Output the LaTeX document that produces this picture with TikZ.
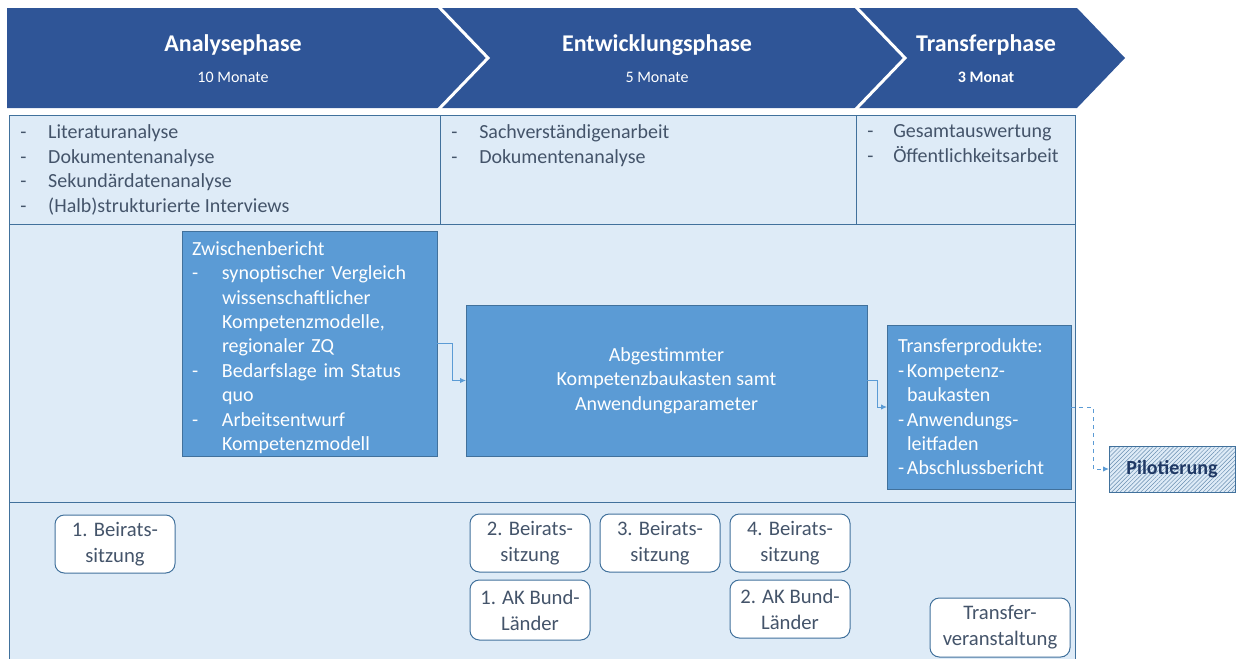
\documentclass[tikz,border=0pt]{standalone}
\usepackage{fontspec}
\setmainfont{Carlito}
\usetikzlibrary{patterns.meta,arrows.meta}
\definecolor{hdr}{HTML}{2F5597}
\definecolor{light}{HTML}{DEEBF7}
\definecolor{bord}{HTML}{41719C}
\definecolor{mid}{HTML}{5B9BD5}
\definecolor{txt}{HTML}{44546A}
\definecolor{pil}{HTML}{1F3864}
\newcommand\litem{\makebox[21pt][l]{-}}
\newcommand\zitem{\makebox[22.5pt][l]{-}}
\newcommand\titem{\makebox[6.75pt][l]{-}}
\tikzset{
  hdrtitle/.style={text=white,font=\fontsize{18}{22}\selectfont\bfseries,inner sep=0pt},
  hdrsub/.style={text=white,font=\fontsize{12}{14}\selectfont,inner sep=0pt},
  actbox/.style={draw=bord,fill=light,line width=0.75pt},
  acttext/.style={text=txt,font=\fontsize{15}{18.4}\selectfont,align=left,inner sep=0pt,anchor=north west},
  midbox/.style={draw=bord,fill=mid,line width=0.75pt,text=white,font=\fontsize{15}{18.3}\selectfont,inner sep=0pt,outer sep=0pt},
  meetbox/.style={draw=bord,fill=white,line width=0.75pt,rounded corners=7pt,text=txt,font=\fontsize{15.5}{19.5}\selectfont,align=center,inner sep=0pt,outer sep=0pt,minimum width=90pt},
  conn/.style={draw=mid,line width=0.75pt,-{Latex[length=4.5pt,width=4pt]}},
}
\begin{document}
\begin{tikzpicture}[x=0.75pt,y=-0.75pt]
\useasboundingbox (0,0) rectangle (1239,658);
% header
\fill[hdr] (7,8) -- (1077,8) -- (1125,58) -- (1077,108) -- (7,108) -- cycle;
\draw[white,line width=2.25pt] (438,6) -- (488,58) -- (438,110);
\draw[white,line width=2.25pt] (855,6) -- (905,58) -- (855,110);
\node[hdrtitle] (t1) at (233,45) {Analysephase};
\node[hdrsub] (s1) at (233,77) {10 Monate};
\node[hdrtitle] (t2) at (657,45) {Entwicklungsphase};
\node[hdrsub] (s2) at (657,77) {5 Monate};
\node[hdrtitle] (t3) at (986,45) {Transferphase};
\node[hdrsub,font=\fontsize{12}{14}\selectfont\bfseries] (s3) at (986,77) {3 Monat};
% activity row
\draw[actbox] (9,115) rectangle (440,224);
\draw[actbox] (440,115) rectangle (856,224);
\draw[actbox] (856,115) rectangle (1075,224);
\node[acttext] (a1) at (20,124.5) {\litem Literaturanalyse\\ \litem Dokumentenanalyse\\ \litem Sekundärdatenanalyse\\ \litem (Halb)strukturierte Interviews};
\node[acttext] (a2) at (451,124.5) {\litem Sachverständigenarbeit\\ \litem Dokumentenanalyse};
\node[acttext] (a3) at (867,124.5) {\makebox[19.5pt][l]{-}Gesamtauswertung\\ \makebox[19.5pt][l]{-}Öffentlichkeitsarbeit};
% bands
\draw[actbox] (9,224) rectangle (1075,502);
\fill[light] (9,502) rectangle (1075,659);
\draw[bord,line width=0.75pt] (9,659) -- (9,502) -- (1075,502) -- (1075,659);
% middle boxes
\node[midbox,minimum width=191.25pt,minimum height=168.75pt,align=left,text width=176.25pt] (zb) at (309.5,343.5)
 {\rule{0pt}{16.5pt}Zwischenbericht\\ \zitem synoptischer Vergleich\\ \hspace*{22.5pt}wissenschaftlicher\\ \hspace*{22.5pt}Kompetenzmodelle,\\ \hspace*{22.5pt}regionaler ZQ\\ \zitem Bedarfslage im Status\\ \hspace*{22.5pt}quo\\ \zitem Arbeitsentwurf\\ \hspace*{22.5pt}Kompetenzmodell};
\node[midbox,minimum width=300.75pt,minimum height=113.25pt,align=center] (ab) at (666.5,380.5)
 {Abgestimmter\\ Kompetenzbaukasten samt\\ Anwendungparameter};
\node[midbox,minimum width=138pt,minimum height=123pt,align=left,text width=121.5pt] (tp) at (979,407)
 {Transferprodukte:\\ \titem Kompetenz-\\ \hspace*{6.75pt}baukasten\\ \titem Anwendungs-\\ \hspace*{6.75pt}leitfaden\\ \titem Abschlussbericht};
\node[draw=bord,line width=0.75pt,preaction={fill=light},pattern={Lines[angle=45,distance=2.2pt,line width=0.35pt]},pattern color=bord!80,minimum width=94.5pt,minimum height=34.5pt,inner sep=0pt,outer sep=0pt,text=pil,font=\fontsize{15}{18}\selectfont\bfseries] (pil) at (1172,469) {Pilotierung};
% connectors
\draw[conn] (zb.east) -- ++(15,0) |- (ab.west);
\draw[conn] (ab.east) -- ++(10,0) |- (tp.west);
\draw[conn,dashed] (tp.east) -- ++(22,0) |- (pil.west);
% meetings
\node[meetbox,minimum height=43.5pt] (b1) at (115,544) {1. Beirats-\\sitzung};
\node[meetbox,minimum height=43.5pt] (b2) at (530,543) {2. Beirats-\\sitzung};
\node[meetbox,minimum height=43.5pt] (b3) at (660,543) {3. Beirats-\\sitzung};
\node[meetbox,minimum height=43.5pt] (b4) at (790,543) {4. Beirats-\\sitzung};
\node[meetbox,minimum height=45pt] (k1) at (530,610) {1. AK Bund-\\Länder};
\node[meetbox,minimum height=43.5pt] (k2) at (790,609) {2. AK Bund-\\Länder};
\node[meetbox,minimum width=105pt,minimum height=44.25pt] (tv) at (1000,627.5) {Transfer-\\veranstaltung};
\end{tikzpicture}
\end{document}
